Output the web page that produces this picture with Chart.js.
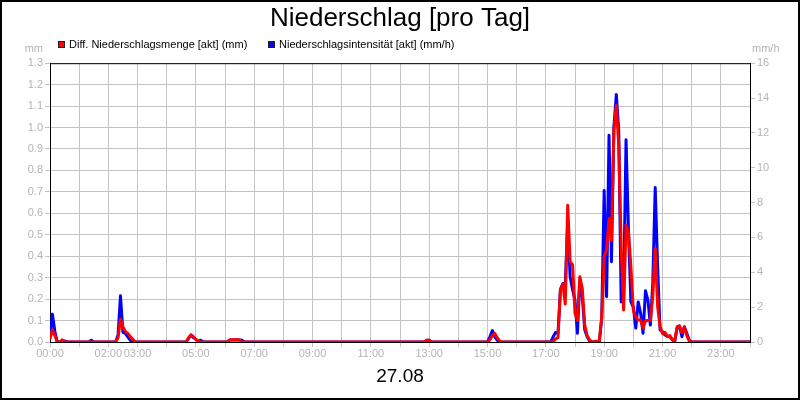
<!DOCTYPE html>
<html lang="de">
<head>
<meta charset="utf-8">
<title>Niederschlag [pro Tag]</title>
<script src="https://cdn.jsdelivr.net/npm/chart.js@4.4.1/dist/chart.umd.min.js"></script>
<style>
    html, body { margin: 0; padding: 0; background: #fff; }
    #wrap { position: relative; width: 800px; height: 400px; font-family: "Liberation Sans", Arial, sans-serif; }
    #rainChart { position: absolute; left: 0; top: 0; }
    .legend-item { position: absolute; top: 38px; font-size: 11px; color: #000; white-space: nowrap; line-height: 13px; }
    .legend-item i { display: inline-block; width: 5px; height: 5px; border: 1px solid #222; margin-right: 4px; vertical-align: 0; }
    .unit { position: absolute; top: 42px; font-size: 11px; color: #b4b4b4; line-height: 13px; }
</style>
</head>
<body>
<div id="wrap">
    <canvas id="rainChart" width="800" height="400"></canvas>
    <div class="legend-item" id="leg0" style="left: 58px;"></div>
    <div class="legend-item" id="leg1" style="left: 268px;"></div>
    <div class="unit" style="right: 757px;">mm</div>
    <div class="unit" style="left: 752px;">mm/h</div>
</div>
<script>
const titleText = 'Niederschlag [pro Tag]';
const dateLabel = '27.08';
const seriesNames = ['Diff. Niederschlagsmenge [akt] (mm)', 'Niederschlagsintensität [akt] (mm/h)'];
const xTickLabels = ['00:00', '02:00', '03:00', '05:00', '07:00', '09:00', '11:00',
    '13:00', '15:00', '17:00', '19:00', '21:00', '23:00'];

// Messzeitpunkte (5-Minuten-Raster, Nullphasen nur mit Rand)
const times = [
    '00:00', '00:05', '00:10', '00:15', '00:20', '00:25', '00:30', '00:35',
    '01:20', '01:25', '01:30',
    '02:15', '02:20', '02:25', '02:30', '02:35', '02:40', '02:45', '02:50', '02:55',
    '04:40', '04:45', '04:50', '04:55', '05:00', '05:05', '05:10', '05:15',
    '06:05', '06:10', '06:15', '06:20', '06:25', '06:30', '06:35', '06:40',
    '12:50', '12:55', '13:00', '13:05',
    '15:00', '15:05', '15:10', '15:15', '15:20', '15:25', '15:30',
    '17:10', '17:15', '17:20', '17:25', '17:30', '17:35', '17:40', '17:45',
    '17:50', '17:55', '18:00', '18:05', '18:10', '18:15', '18:20', '18:25',
    '18:30', '18:35', '18:50', '18:55', '19:00', '19:05', '19:10', '19:15',
    '19:20', '19:25', '19:30', '19:35', '19:40', '19:45', '19:50', '19:55',
    '20:00', '20:05', '20:10', '20:15', '20:20', '20:25', '20:30', '20:35',
    '20:40', '20:45', '20:50', '20:55', '21:00', '21:05', '21:10', '21:15',
    '21:20', '21:25', '21:30', '21:35', '21:40', '21:45', '21:50', '21:55',
    '22:00', '24:00'
];

// Diff. Niederschlagsmenge (mm)
const mengeMm = [
    0.015, 0.056, 0.03, 0, 0, 0.01, 0, 0,
    0, 0, 0,
    0, 0.02, 0.107, 0.07, 0.05, 0.04, 0.025, 0.014, 0,
    0, 0.02, 0.033, 0.025, 0.012, 0.005, 0, 0,
    0, 0.01, 0.01, 0.01, 0.01, 0.01, 0, 0,
    0, 0.008, 0.008, 0,
    0, 0.01, 0.03, 0.04, 0.02, 0.005, 0,
    0, 0, 0.015, 0.02, 0.242, 0.27, 0.177, 0.638,
    0.374, 0.36, 0.134, 0.1, 0.304, 0.25, 0.08, 0.03,
    0.01, 0, 0.005, 0.118, 0.397, 0.43, 0.576, 0.475,
    0.988, 1.104, 0.918, 0.444, 0.149, 0.545, 0.514, 0.351,
    0.149, 0.115, 0.103, 0.103, 0.064, 0.1, 0.1, 0.1,
    0.211, 0.437, 0.165, 0.071, 0.04, 0.045, 0.025, 0.03,
    0.01, 0.005, 0.071, 0.075, 0.043, 0.07, 0.03, 0.005,
    0, 0
];

// Niederschlagsintensität (mm/h)
const intensitaetMmh = [
    0.25, 1.6, 0.6, 0, 0, 0.05, 0.06, 0,
    0, 0.1, 0,
    0, 0.4, 2.65, 0.55, 0.5, 0.3, 0.1, 0, 0,
    0, 0.2, 0.4, 0.25, 0.15, 0.05, 0.1, 0,
    0, 0.12, 0.12, 0.12, 0.12, 0.12, 0.1, 0,
    0, 0.1, 0.1, 0,
    0, 0.3, 0.65, 0.3, 0.1, 0, 0,
    0, 0.3, 0.55, 0.5, 3.02, 3.36, 3.33, 6.8,
    3.75, 3.0, 2.4, 0.5, 3.55, 2.6, 0.7, 0.3,
    0.05, 0, 0, 1.36, 8.7, 2.6, 11.87, 4.6,
    12.35, 14.2, 12.15, 2.3, 2.8, 11.6, 6.4, 2.3,
    2.0, 0.8, 2.3, 1.64, 0.5, 2.94, 2.4, 0.97,
    3.36, 8.87, 4.3, 0.69, 0.6, 0.4, 0.33, 0.3,
    0.15, 0, 0.79, 0.92, 0.3, 0.88, 0.5, 0.1,
    0, 0
];

const seriesColors = ['#ff0000', '#0000ff'];
const axisGray = '#b4b4b4';
const gridGray = '#c4c4c4';
const fontFamily = '"Liberation Sans", Arial, sans-serif';

function toMinutes(t) {
    const [h, m] = t.split(':').map(Number);
    return h * 60 + m;
}

function pad2(n) {
    return String(n).padStart(2, '0');
}

function toPoints(values) {
    return times.map((t, i) => ({ x: toMinutes(t), y: values[i] }));
}

// Legende als HTML
seriesNames.forEach((name, i) => {
    const el = document.getElementById('leg' + i);
    el.innerHTML = `<i style="background:${seriesColors[i]}"></i>${name}`;
});

// Rahmen um das Bild und oben um den Plotbereich
const framePlugin = {
    id: 'frame',
    beforeDatasetsDraw(chart) {
        const { ctx, chartArea } = chart;
        ctx.save();
        ctx.strokeStyle = '#000';
        ctx.lineWidth = 1;
        ctx.beginPath();
        ctx.moveTo(chartArea.left, chartArea.top + 0.5);
        ctx.lineTo(chartArea.right, chartArea.top + 0.5);
        ctx.stroke();
        ctx.restore();
    },
    afterDraw(chart) {
        const ctx = chart.ctx;
        ctx.save();
        ctx.strokeStyle = '#000';
        ctx.lineWidth = 2;
        ctx.strokeRect(1, 1, chart.width - 2, chart.height - 2);
        ctx.restore();
    }
};

const ctx = document.getElementById('rainChart').getContext('2d');

const rainChart = new Chart(ctx, {
    type: 'line',
    data: {
        datasets: [
            {
                label: seriesNames[0],
                data: toPoints(mengeMm),
                borderColor: seriesColors[0],
                backgroundColor: seriesColors[0],
                borderWidth: 3,
                yAxisID: 'y'
            },
            {
                label: seriesNames[1],
                data: toPoints(intensitaetMmh),
                borderColor: seriesColors[1],
                backgroundColor: seriesColors[1],
                borderWidth: 3,
                yAxisID: 'y2'
            }
        ]
    },
    options: {
        responsive: false,
        animation: false,
        devicePixelRatio: 1,
        layout: { padding: 0 },
        elements: {
            point: { radius: 0 },
            line: { tension: 0, borderJoinStyle: 'round' }
        },
        scales: {
            x: {
                type: 'linear',
                min: 0,
                max: 1440,
                afterFit: (scale) => { scale.height = 58; },
                grid: { color: gridGray, tickLength: 5 },
                border: { color: '#000', width: 1 },
                ticks: {
                    stepSize: 60,
                    autoSkip: false,
                    maxRotation: 0,
                    padding: 0,
                    color: axisGray,
                    font: { family: fontFamily, size: 11 },
                    callback: (value) => {
                        const label = pad2(Math.floor(value / 60)) + ':' + pad2(value % 60);
                        return xTickLabels.includes(label) ? label : '';
                    }
                },
                title: {
                    display: true,
                    text: dateLabel,
                    color: '#000',
                    font: { family: fontFamily, size: 19 },
                    padding: { top: 0, bottom: 12 }
                }
            },
            y: {
                position: 'left',
                min: 0,
                max: 1.3,
                afterFit: (scale) => { scale.width = 50; },
                grid: { color: gridGray, tickLength: 5 },
                border: { color: '#000', width: 1 },
                ticks: {
                    stepSize: 0.1,
                    padding: 2,
                    color: axisGray,
                    font: { family: fontFamily, size: 11 },
                    callback: (value) => value.toFixed(1)
                }
            },
            y2: {
                position: 'right',
                min: 0,
                max: 16,
                afterFit: (scale) => { scale.width = 50; },
                grid: { drawOnChartArea: false, color: gridGray, tickLength: 5 },
                border: { color: '#000', width: 1 },
                ticks: {
                    stepSize: 2,
                    padding: 2,
                    color: axisGray,
                    font: { family: fontFamily, size: 11 }
                }
            }
        },
        plugins: {
            legend: { display: false },
            tooltip: { enabled: false },
            title: {
                display: true,
                text: titleText,
                color: '#000',
                font: { family: fontFamily, size: 26, weight: 'normal' },
                padding: { top: 3, bottom: 29 }
            }
        }
    },
    plugins: [framePlugin]
});
</script>
</body>
</html>
